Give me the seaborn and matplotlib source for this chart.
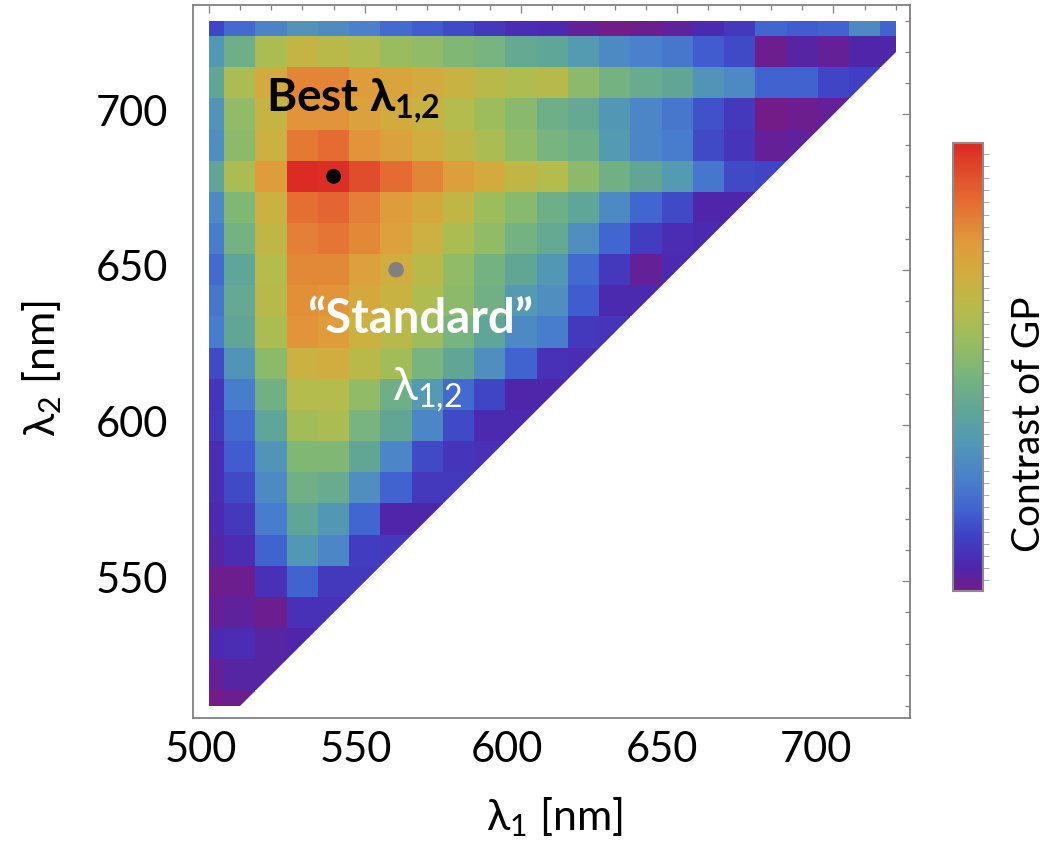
import numpy as np
import pandas as pd
import matplotlib
matplotlib.use("Agg")
import matplotlib.pyplot as plt
import seaborn as sns
from matplotlib.colors import LinearSegmentedColormap
from matplotlib.patches import Polygon
from matplotlib.transforms import ScaledTranslation

# ---------------- data ----------------
lam1 = [500, 510, 520, 530, 540, 550, 560, 570, 580, 590, 600, 610,
        620, 630, 640, 650, 660, 670, 680, 690, 700, 710, 720]      # λ1 [nm]
lam2 = [730, 720, 710, 700, 690, 680, 670, 660, 650, 640, 630, 620,
        610, 600, 590, 580, 570, 560, 550, 540, 530, 520, 510]      # λ2 [nm]

# contrast of GP (0..1), each row starts at λ1 = 500 and runs up to λ1 = λ2
row_730 = [0.13, 0.20, 0.26, 0.32, 0.29, 0.25, 0.20, 0.17, 0.14, 0.10, 0.07, 0.06,
           0.02, 0.00, 0.01, 0.03, 0.06, 0.10, 0.19, 0.17, 0.18, 0.28, 0.18]
row_720 = [0.33, 0.45, 0.60, 0.67, 0.64, 0.61, 0.56, 0.54, 0.50, 0.48, 0.42, 0.40,
           0.34, 0.28, 0.25, 0.23, 0.17, 0.14, 0.01, 0.04, 0.02, 0.05, 0.05]
row_710 = [0.41, 0.60, 0.72, 0.82, 0.82, 0.77, 0.74, 0.72, 0.68, 0.64, 0.61, 0.63,
           0.53, 0.47, 0.43, 0.41, 0.32, 0.28, 0.18, 0.18, 0.13, 0.12]
row_700 = [0.32, 0.54, 0.67, 0.79, 0.79, 0.75, 0.72, 0.68, 0.62, 0.57, 0.52, 0.45,
           0.42, 0.33, 0.27, 0.23, 0.15, 0.10, 0.00, 0.01, 0.02]
row_690 = [0.30, 0.53, 0.69, 0.84, 0.87, 0.79, 0.75, 0.71, 0.66, 0.60, 0.54, 0.48,
           0.45, 0.34, 0.27, 0.24, 0.14, 0.09, 0.02, 0.03]
row_680 = [0.40, 0.60, 0.77, 1.00, 0.99, 0.93, 0.87, 0.82, 0.76, 0.72, 0.66, 0.62,
           0.53, 0.46, 0.41, 0.34, 0.23, 0.14, 0.13]
row_670 = [0.28, 0.50, 0.69, 0.86, 0.88, 0.83, 0.77, 0.73, 0.66, 0.57, 0.52, 0.45,
           0.40, 0.28, 0.19, 0.14, 0.05, 0.05]
row_660 = [0.24, 0.47, 0.66, 0.83, 0.85, 0.81, 0.75, 0.69, 0.60, 0.54, 0.47, 0.42,
           0.30, 0.19, 0.11, 0.07, 0.06]
row_650 = [0.20, 0.40, 0.62, 0.81, 0.81, 0.75, 0.71, 0.64, 0.54, 0.47, 0.41, 0.33,
           0.20, 0.10, 0.02, 0.06]
row_640 = [0.23, 0.42, 0.63, 0.80, 0.79, 0.73, 0.68, 0.61, 0.53, 0.46, 0.34, 0.30,
           0.17, 0.06, 0.06]
row_630 = [0.24, 0.41, 0.60, 0.79, 0.77, 0.69, 0.64, 0.57, 0.48, 0.40, 0.28, 0.24,
           0.10, 0.09]
row_620 = [0.14, 0.32, 0.53, 0.69, 0.71, 0.64, 0.58, 0.48, 0.41, 0.30, 0.18, 0.08,
           0.07]
row_610 = [0.09, 0.24, 0.46, 0.62, 0.62, 0.54, 0.45, 0.34, 0.20, 0.13, 0.05, 0.05]
row_600 = [0.10, 0.20, 0.40, 0.58, 0.60, 0.48, 0.41, 0.27, 0.14, 0.06, 0.06]
row_590 = [0.07, 0.17, 0.32, 0.50, 0.50, 0.41, 0.27, 0.14, 0.09, 0.08]
row_580 = [0.07, 0.14, 0.28, 0.46, 0.43, 0.30, 0.18, 0.10, 0.10]
row_570 = [0.06, 0.10, 0.24, 0.40, 0.33, 0.19, 0.05, 0.05]
row_560 = [0.04, 0.07, 0.18, 0.33, 0.27, 0.11, 0.10]
row_550 = [0.01, 0.01, 0.08, 0.18, 0.10, 0.10]
row_540 = [0.02, 0.03, 0.01, 0.08, 0.08]
row_530 = [0.06, 0.07, 0.04, 0.05]
row_520 = [0.02, 0.04, 0.04]
row_510 = [0.00, 0.01]

best_point = (540, 680)       # (λ1, λ2)
standard_point = (560, 650)   # (λ1, λ2)

x_ticks = [500, 550, 600, 650, 700]
y_ticks = [550, 600, 650, 700]

rows = [row_730, row_720, row_710, row_700, row_690, row_680, row_670, row_660,
        row_650, row_640, row_630, row_620, row_610, row_600, row_590, row_580,
        row_570, row_560, row_550, row_540, row_530, row_520, row_510]
mat = np.full((len(lam2), len(lam1)), np.nan)
for i, r in enumerate(rows):
    mat[i, :len(r)] = r
df = pd.DataFrame(mat, index=lam2, columns=lam1)

# Mathematica-like "Rainbow" gradient
cmap = LinearSegmentedColormap.from_list("rainbow_m", [
    (0.00, "#731c88"), (0.05, "#4d27ac"), (0.12, "#4040c4"), (0.18, "#4063d0"),
    (0.25, "#4a80cc"), (0.33, "#5298b4"), (0.40, "#5fa598"), (0.48, "#77b47e"),
    (0.55, "#95bc62"), (0.62, "#b3bc4c"), (0.70, "#ceb03f"), (0.78, "#e09a3a"),
    (0.86, "#e57033"), (0.93, "#e04f2c"), (1.00, "#dc2a24")])

# ---------------- style ----------------
sns.set_style("white")
plt.rcParams['font.family'] = ['Lato', 'DejaVu Sans']
plt.rcParams['mathtext.fontset'] = 'custom'
plt.rcParams['mathtext.rm'] = 'Lato'
plt.rcParams['mathtext.it'] = 'Lato:italic'
plt.rcParams['mathtext.bf'] = 'Lato:bold'
plt.rcParams['text.color'] = 'black'
plt.rcParams['axes.labelcolor'] = 'black'

W, H = 1058, 844
fig = plt.figure(figsize=(W / 100, H / 100), dpi=100)
ax = fig.add_axes([192.7 / W, 1 - 718.3 / H, (910 - 192.7) / W, (718.3 - 5.3) / H])
cax = fig.add_axes([953.3 / W, 1 - 590.7 / H, 29.4 / W, 447.4 / H])

sns.heatmap(df, ax=ax, cbar_ax=cax, cmap=cmap, vmin=0, vmax=1,
            xticklabels=False, yticklabels=False, linewidths=0)
mesh = ax.collections[0]

step = lam1[1] - lam1[0]


def xpos(v):
    return (np.asarray(v, dtype=float) - (lam1[0] - step / 2)) / step


def ypos(v):
    return ((lam2[0] + step / 2) - np.asarray(v, dtype=float)) / step


# clip mesh to the data hull (λ2 >= λ1)
l1min, l1max = min(lam1), max(lam1)
l2min, l2max = min(lam2), max(lam2)
hull = [(l1min, l2min), (l2min, l2min), (l1max, l1max), (l1max, l2max), (l1min, l2max)]
poly = Polygon([(xpos(a), ypos(b)) for a, b in hull], closed=True,
               transform=ax.transData, facecolor='none', edgecolor='none')
mesh.set_clip_path(poly)

ax.set_xlim(xpos(494.9), xpos(724.5))
ax.set_ylim(ypos(506.0), ypos(734.9))

ax.set_xticks(xpos(x_ticks))
ax.set_xticklabels([str(t) for t in x_ticks])
ax.set_xticks(xpos(lam1), minor=True)
ax.set_yticks(ypos(y_ticks))
ax.set_yticklabels([str(t) for t in y_ticks])
ax.set_yticks(ypos(lam2), minor=True)

grey = '#808080'
for s in ax.spines.values():
    s.set_visible(True)
    s.set_color(grey)
    s.set_linewidth(1.3)
ax.tick_params(which='both', direction='in', top=True, right=True,
               color=grey, width=0.9, labelsize=30, labelcolor='black')
ax.tick_params(which='major', length=6)
ax.tick_params(which='minor', length=3.5)
ax.tick_params(axis='x', which='major', pad=9)
ax.tick_params(axis='y', which='major', pad=18)
ax.tick_params(axis='y', which='major', labelrotation=0)

xshift = [-8, -9, -14, -15, -18]
for lbl, dx in zip(ax.get_xticklabels(), xshift):
    lbl.set_transform(lbl.get_transform() + ScaledTranslation(dx / 100, 0, fig.dpi_scale_trans))
for lbl in ax.get_yticklabels():
    lbl.set_transform(lbl.get_transform() + ScaledTranslation(0, 4 / 100, fig.dpi_scale_trans))

# points
ax.scatter(xpos([best_point[0]]), ypos([best_point[1]]), s=115, color='black',
           edgecolor='none', zorder=5)
ax.scatter(xpos([standard_point[0]]), ypos([standard_point[1]]), s=125, color='#808080',
           edgecolor='none', zorder=5)

# annotations
ax.text(xpos(518.5), ypos(701), "Best λ$_{\\mathbf{1{,}2}}$", fontsize=33,
        fontweight='bold', color='black', ha='left', va='baseline')
ax.text(xpos(567.6), ypos(629.8), "\u201cStandard\u201d", fontsize=34,
        fontweight='bold', color='white', ha='center', va='baseline')
ax.text(xpos(570.0), ypos(608), "λ$_{1{,}2}$", fontsize=33,
        color='white', ha='center', va='baseline')

# axis labels
fig.text(554 / W, 1 - 830 / H, "λ$_1$ [nm]", fontsize=31, ha='center', va='baseline',
         color='black')
fig.text(55 / W, 1 - 369 / H, "λ$_2$ [nm]", fontsize=31, rotation=90,
         rotation_mode='anchor', ha='center', va='baseline', color='black')

# colorbar styling
cb = mesh.colorbar
cb.outline.set_edgecolor('#8c8c8c')
cb.outline.set_linewidth(1.5)
cb.set_ticks(list(np.linspace(0.023, 0.977, 36)))
cax.set_yticklabels([])
cax.tick_params(axis='y', direction='out', length=4.3, width=0.7, color='#a8a8a8',
                right=True, left=False, labelright=False)
fig.text(1029 / W, 1 - 424 / H, "Contrast of GP", fontsize=28, rotation=90,
         ha='center', va='center', color='black')

fig.savefig("out.png", dpi=100)
